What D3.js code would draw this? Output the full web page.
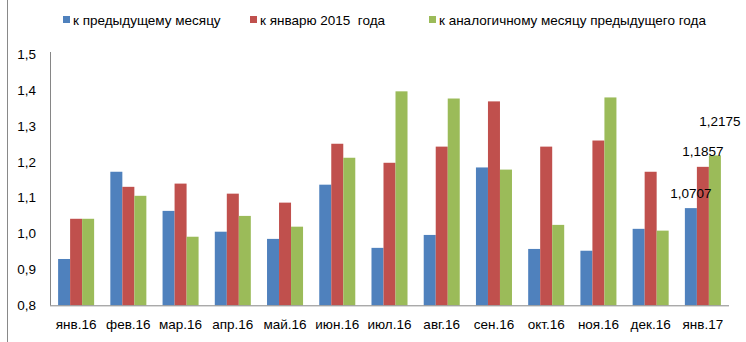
<!DOCTYPE html>
<html><head><meta charset="utf-8">
<script src="https://cdn.jsdelivr.net/npm/d3@7"></script>
<style>body{margin:0;background:#fff}svg{display:block}text{font-family:"Liberation Sans",Arial,sans-serif;white-space:pre}</style>
</head><body><svg id="c" width="746" height="342"></svg>
<script>
const categories = ["янв.16","фев.16","мар.16","апр.16","май.16","июн.16","июл.16","авг.16","сен.16","окт.16","ноя.16","дек.16","янв.17"];
const seriesNames = ["к предыдущему месяцу","к январю 2015  года","к аналогичному месяцу предыдущего года"];
const prevMonth = [0.929,1.172,1.063,1.005,0.985,1.136,0.960,0.996,1.184,0.957,0.952,1.013,1.0707];
const jan2015   = [1.041,1.130,1.139,1.111,1.086,1.250,1.197,1.242,1.368,1.242,1.259,1.172,1.1857];
const yearAgo   = [1.041,1.105,0.991,1.049,1.019,1.211,1.396,1.376,1.178,1.024,1.379,1.008,1.2175];
const yTicks = [0.8,0.9,1.0,1.1,1.2,1.3,1.4,1.5];
const colors = ["#4F81BD","#C0504D","#9BBB59"];
const labelOffsets = [[0,-10],[0,-11],[5,-29]];

const svg = d3.select("#c");
const pL=50, pR=729, pT=54, pB=305.3;
const x0 = d3.scaleBand().domain(categories).range([pL,pR]).padding(0);
const x1 = d3.scaleBand().domain([0,1,2]).range([0,x0.bandwidth()]).paddingInner(0).paddingOuter(0.675);
const y = d3.scaleLinear().domain([0.8,1.5]).range([pB,pT]);
const fmt = v => d3.format(".1f")(v).replace(".",",");
const data = [prevMonth,jan2015,yearAgo];

svg.append("line").attr("x1",7.5).attr("x2",7.5).attr("y1",0).attr("y2",342).attr("stroke","#898989").attr("stroke-width",1);

categories.forEach((c,i)=>{
  data.forEach((s,k)=>{
    svg.append("rect").attr("x",x0(c)+x1(k)).attr("width",x1.bandwidth())
      .attr("y",y(s[i])).attr("height",pB-y(s[i])).attr("fill",colors[k]);
  });
});

const yAxis = d3.axisLeft(y).tickValues(yTicks).tickFormat(fmt).tickSize(0).tickPadding(14);
const gy = svg.append("g").attr("transform",`translate(${pL},0)`).call(yAxis);
gy.select(".domain").attr("stroke","#868686").attr("d",`M0.5,${pT-2}V${pB}`);
gy.selectAll("text").attr("font-size",13.5).attr("fill","#000").attr("font-family","Liberation Sans, Arial, sans-serif");

const xAxis = d3.axisBottom(x0).tickSize(0).tickPadding(14);
const gx = svg.append("g").attr("transform",`translate(0,${pB})`).call(xAxis);
gx.select(".domain").attr("stroke","#868686").attr("d",`M${pL},0.5H${pR}`);
gx.selectAll("text").attr("font-size",13.5).attr("fill","#000").attr("font-family","Liberation Sans, Arial, sans-serif");

const last = categories.length-1;
data.forEach((s,k)=>{
  svg.append("text").attr("x",x0(categories[last])+x1(k)+x1.bandwidth()/2+labelOffsets[k][0])
    .attr("y",y(s[last])+labelOffsets[k][1]).attr("text-anchor","middle")
    .attr("font-size",13.5).attr("fill","#000").text(d3.format(".4f")(s[last]).replace(".",","));
});

const legX = [63,250,429];
seriesNames.forEach((n,k)=>{
  svg.append("rect").attr("x",legX[k]).attr("y",16).attr("width",7).attr("height",7).attr("fill",colors[k]);
  svg.append("text").attr("x",legX[k]+10).attr("y",24.5).attr("font-size",13.5).attr("fill","#000")
    .attr("xml:space","preserve").text(n);
});
</script></body></html>
